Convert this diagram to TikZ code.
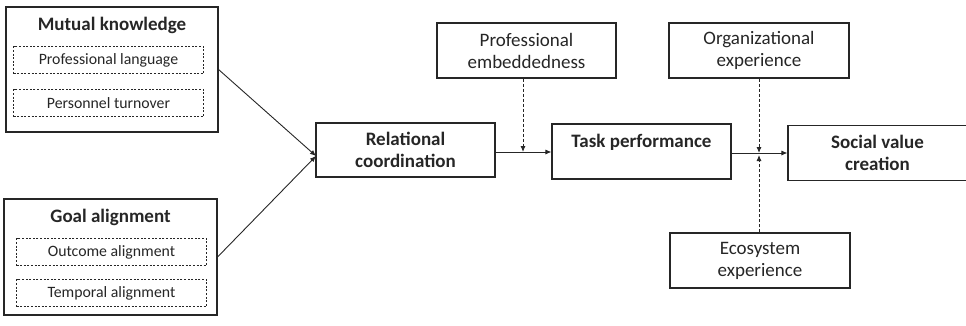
\documentclass[tikz,border=0pt]{standalone}
\usepackage{fontspec}
\setmainfont{Carlito}
\usetikzlibrary{arrows.meta}

\begin{document}
\begin{tikzpicture}[x=1pt, y=-1pt,
    box/.style={draw=black!85, line width=1.1pt, minimum width=179pt, minimum height=55pt,
        inner sep=0pt, align=center, text=black!85, font=\fontsize{19}{22}\selectfont},
    mainbox/.style={box, font=\fontsize{19}{22}\selectfont\bfseries},
    groupbox/.style={draw=black!85, line width=1.1pt, inner sep=0pt},
    grouptitle/.style={text=black!85, font=\fontsize{19}{22}\selectfont\bfseries},
    itembox/.style={draw=black!85, line width=0.9pt, dash pattern=on 2pt off 1.6pt,
        minimum width=190pt, minimum height=27pt, inner sep=0pt, text=black!85,
        font=\fontsize{15.8}{19}\selectfont},
    conn/.style={draw=black!85, line width=0.9pt, -{Latex[length=6pt,width=5pt]}},
    modline/.style={conn, dash pattern=on 3pt off 2pt}]
    \useasboundingbox (0,0) rectangle (966,325);

    % antecedents
    \node[groupbox, minimum width=212pt, minimum height=125pt] (mk) at (112,69.5) {};
    \node[grouptitle] (mktitle) at (112,25) {Mutual knowledge};
    \node[itembox] (pl) at (108.5,60) {Professional language};
    \node[itembox] (pt) at (108.5,103) {Personnel turnover};

    \node[groupbox, minimum width=213pt, minimum height=116pt] (ga) at (110.5,257) {};
    \node[grouptitle] (gatitle) at (110.5,217) {Goal alignment};
    \node[itembox] (oa) at (111.5,252) {Outcome alignment};
    \node[itembox] (ta) at (111.5,293) {Temporal alignment};

    % main chain
    \node[mainbox, minimum height=54pt] (rc) at (405.5,150) {Relational\\coordination};
    \node[mainbox] (tp) at (641.5,151.5) {Task performance\\\phantom{x}};
    \node[mainbox] (sv) at (877.5,153) {Social value\\creation};

    % moderators
    \node[box] (pe) at (526.5,50.5) {Professional\\embeddedness};
    \node[box, minimum width=180pt] (oe) at (759,50.5) {Organizational\\experience};
    \node[box, minimum width=180pt] (ee) at (760,260.5) {Ecosystem\\experience};

    \coordinate (rcin) at (316,156);
    \coordinate (m1) at (523,152);
    \coordinate (m2) at (759,153);
    \coordinate (m3) at (759,155);

    \draw[conn] (mk.east) -- (rcin);
    \draw[conn] (ga.east) -- (rcin);
    \draw[conn] (rc.east |- m1) -- (tp.west |- m1);
    \draw[conn] (tp.east |- m2) -- (sv.west |- m2);

    \draw[modline] (pe.south -| m1) -- (m1);
    \draw[modline] (oe.south -| m2) -- (m2);
    \draw[modline] (ee.north -| m3) -- (m3);
\end{tikzpicture}
\end{document}
